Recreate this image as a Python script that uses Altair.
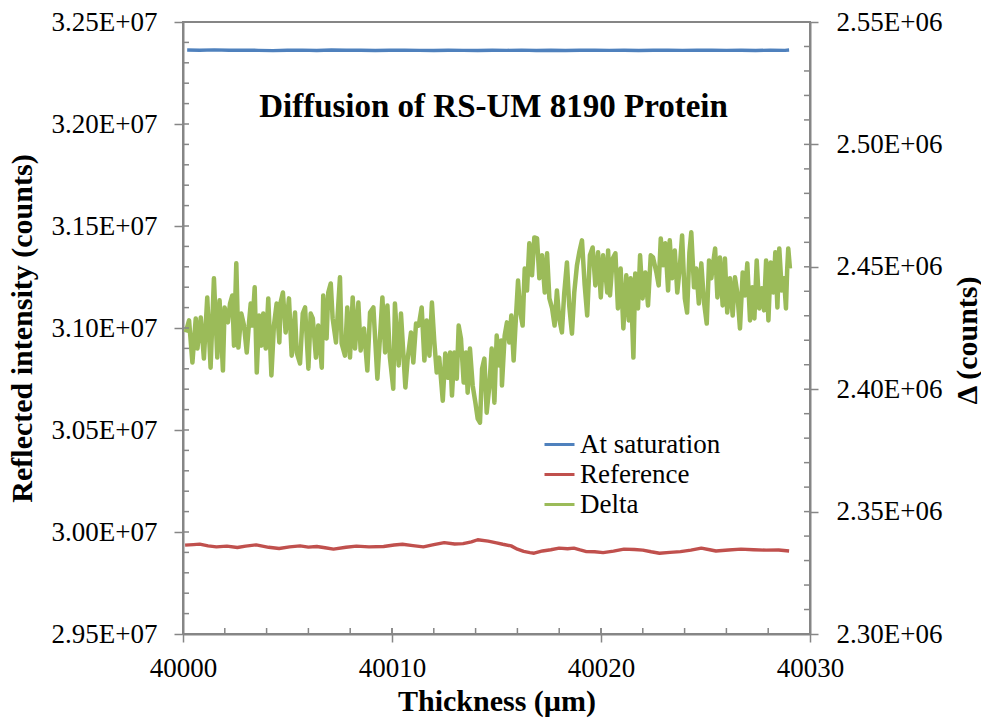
import altair as alt
import pandas as pd

# ---------------- texts ----------------
chart_title = "Diffusion of RS-UM 8190 Protein"
x_title = "Thickness (µm)"
y_left_title = "Reflected intensity (counts)"
y_right_title = "Δ (counts)"
series_names = ["At saturation", "Reference", "Delta"]
series_colors = ["#4F81BD", "#C0504D", "#9BBB59"]

# ---------------- axes ----------------
x_domain = [40000, 40030]
x_ticks = [40000, 40010, 40020, 40030]
x_minor = [40002, 40004, 40006, 40008, 40010, 40012, 40014, 40016, 40018, 40020,
           40022, 40024, 40026, 40028]
left_domain = [2.95e7, 3.25e7]
left_ticks = [2.95e7, 3.00e7, 3.05e7, 3.10e7, 3.15e7, 3.20e7, 3.25e7]
left_minor = [2.96e7, 2.97e7, 2.98e7, 2.99e7, 3.00e7, 3.01e7, 3.02e7, 3.03e7, 3.04e7, 3.05e7,
              3.06e7, 3.07e7, 3.08e7, 3.09e7, 3.10e7, 3.11e7, 3.12e7, 3.13e7, 3.14e7, 3.15e7,
              3.16e7, 3.17e7, 3.18e7, 3.19e7, 3.20e7, 3.21e7, 3.22e7, 3.23e7, 3.24e7]
right_domain = [2.30e6, 2.55e6]
right_ticks = [2.30e6, 2.35e6, 2.40e6, 2.45e6, 2.50e6, 2.55e6]
right_minor = [2.31e6, 2.32e6, 2.33e6, 2.34e6, 2.35e6, 2.36e6, 2.37e6, 2.38e6, 2.39e6, 2.40e6,
               2.41e6, 2.42e6, 2.43e6, 2.44e6, 2.45e6, 2.46e6, 2.47e6, 2.48e6, 2.49e6, 2.50e6,
               2.51e6, 2.52e6, 2.53e6, 2.54e6]

# ---------------- series: At saturation (counts) ----------------
sat_t = [40000.2, 40000.8, 40001.5, 40002.2, 40002.9, 40003.6, 40004.3, 40005.0, 40005.7,
         40006.4, 40007.1, 40007.8, 40008.5, 40009.2, 40009.9, 40010.6, 40011.3, 40012.0,
         40012.7, 40013.4, 40014.1, 40014.8, 40015.5, 40016.2, 40016.9, 40017.6, 40018.3,
         40019.0, 40019.7, 40020.4, 40021.1, 40021.8, 40022.5, 40023.2, 40023.9, 40024.6,
         40025.3, 40026.0, 40026.7, 40027.4, 40028.1, 40028.8, 40029.0]
sat_v = [32362800, 32361800, 32363200, 32361500, 32362200, 32361000, 32359800, 32361200,
         32362000, 32360500, 32362500, 32361200, 32361800, 32360400, 32361500, 32362200,
         32360800, 32360000, 32361400, 32361000, 32360200, 32361800, 32361000, 32362200,
         32360600, 32361500, 32360000, 32361200, 32362000, 32360800, 32361500, 32360400,
         32361200, 32362000, 32360700, 32361500, 32362200, 32360800, 32361200, 32360400,
         32361800, 32361000, 32362500]

# ---------------- series: Reference (counts) ----------------
ref_t = [40000.1, 40000.5, 40000.8, 40001.2, 40001.6, 40002.1, 40002.6, 40003.0, 40003.5,
         40004.1, 40004.6, 40005.1, 40005.6, 40006.0, 40006.4, 40006.8, 40007.2, 40007.8,
         40008.3, 40008.9, 40009.6, 40010.1, 40010.5, 40011.0, 40011.5, 40012.0, 40012.5,
         40013.0, 40013.4, 40013.8, 40014.1, 40014.6, 40015.0, 40015.3, 40015.7, 40016.0,
         40016.3, 40016.6, 40016.8, 40017.2, 40017.6, 40018.0, 40018.4, 40018.7, 40019.0,
         40019.3, 40019.7, 40020.1, 40020.6, 40021.1, 40021.6, 40022.0, 40022.4, 40022.8,
         40023.3, 40023.8, 40024.3, 40024.8, 40025.2, 40025.5, 40026.1, 40026.7, 40027.3,
         40027.9, 40028.5, 40029.0]
ref_v = [29935500, 29938000, 29940400, 29932000, 29927200, 29930500, 29924000, 29931000,
         29937000, 29925000, 29919000, 29927000, 29932000, 29926000, 29929000, 29923000,
         29916000, 29925000, 29931000, 29927000, 29929000, 29936000, 29940000, 29933000,
         29927000, 29938000, 29948000, 29941000, 29943000, 29952000, 29962000, 29955000,
         29947000, 29940000, 29932000, 29916000, 29905000, 29899000, 29896000, 29907000,
         29913000, 29921000, 29918000, 29921000, 29912000, 29904000, 29903000, 29899000,
         29906000, 29916000, 29914000, 29911000, 29903000, 29896000, 29900000, 29904000,
         29911000, 29921000, 29913000, 29907000, 29912000, 29916000, 29913000, 29911000,
         29912000, 29907000]

# ---------------- series: Delta (millions of counts) ----------------
delta_t = [
    40000.13, 40000.29, 40000.45, 40000.61, 40000.69, 40000.85, 40001.00, 40001.16, 40001.32,
    40001.48, 40001.64, 40001.75, 40001.91, 40001.99, 40002.15, 40002.25, 40002.36, 40002.44,
    40002.55, 40002.65, 40002.79, 40002.92, 40003.05, 40003.16, 40003.24, 40003.32, 40003.43,
    40003.53, 40003.64, 40003.75, 40003.84, 40003.96, 40004.08, 40004.23, 40004.35, 40004.48,
    40004.61, 40004.67, 40004.78, 40004.91, 40005.07,
    40005.20, 40005.36, 40005.44, 40005.60, 40005.73, 40005.84, 40006.00, 40006.11, 40006.21,
    40006.36, 40006.47, 40006.64, 40006.71, 40006.87, 40006.95, 40007.07, 40007.16, 40007.32,
    40007.51, 40007.59, 40007.75, 40007.86, 40007.99, 40008.12, 40008.23, 40008.39, 40008.50,
    40008.66, 40008.82, 40008.95, 40009.11, 40009.30, 40009.43, 40009.54, 40009.67, 40009.78,
    40009.90, 40010.06, 40010.14,
    40010.32, 40010.43, 40010.54, 40010.64, 40010.75, 40010.91, 40011.02, 40011.15, 40011.28,
    40011.42, 40011.55, 40011.66, 40011.79, 40011.91, 40012.02, 40012.14, 40012.26, 40012.43,
    40012.55, 40012.67, 40012.78, 40012.87, 40012.98, 40013.10, 40013.19, 40013.30, 40013.43,
    40013.54, 40013.62, 40013.73, 40013.86, 40013.99, 40014.10, 40014.21, 40014.31, 40014.42,
    40014.53, 40014.66, 40014.77, 40014.90, 40015.01, 40015.14, 40015.23,
    40015.26, 40015.39, 40015.50, 40015.61, 40015.71, 40015.82, 40015.93, 40016.03, 40016.14,
    40016.25, 40016.35, 40016.46, 40016.57, 40016.70, 40016.81, 40016.94, 40017.05, 40017.18,
    40017.31, 40017.42, 40017.53, 40017.66, 40017.78, 40017.89, 40018.00, 40018.13, 40018.24,
    40018.37, 40018.48, 40018.61, 40018.72, 40018.85, 40018.96, 40019.09, 40019.22, 40019.34,
    40019.47, 40019.60, 40019.73, 40019.86, 40019.99, 40020.10, 40020.21, 40020.30,
    40020.34, 40020.43, 40020.56, 40020.69, 40020.81, 40020.94, 40021.07, 40021.21, 40021.33,
    40021.42, 40021.55, 40021.64, 40021.77, 40021.87, 40021.99, 40022.12, 40022.25, 40022.38,
    40022.49, 40022.65, 40022.76, 40022.86, 40022.97, 40023.08, 40023.21, 40023.29, 40023.40,
    40023.53, 40023.65, 40023.77, 40023.88, 40024.01, 40024.12, 40024.23, 40024.32, 40024.45,
    40024.56, 40024.68, 40024.80, 40024.93, 40025.06, 40025.17, 40025.28, 40025.37,
    40025.46, 40025.57, 40025.69, 40025.82, 40025.93, 40026.04, 40026.17, 40026.30, 40026.41,
    40026.52, 40026.65, 40026.78, 40026.89, 40027.00, 40027.13, 40027.24, 40027.34, 40027.45,
    40027.57, 40027.69, 40027.80, 40027.90, 40028.01, 40028.12, 40028.25, 40028.34, 40028.44,
    40028.53, 40028.65, 40028.76, 40028.85, 40028.91, 40028.96, 40029.04]
delta_v = [
    2.4232, 2.4281, 2.4109, 2.4289, 2.4166, 2.4293, 2.4125, 2.4375, 2.4088, 2.4453, 2.4129,
    2.4363, 2.4076, 2.4334, 2.4273, 2.4350, 2.4383, 2.4178, 2.4514, 2.4170, 2.4309, 2.4260,
    2.4150, 2.4273, 2.4350, 2.4260, 2.4416, 2.4068, 2.4301, 2.4178, 2.4309, 2.4166, 2.4371,
    2.4056, 2.4260, 2.4350, 2.4191, 2.4354, 2.4395, 2.4232, 2.4371,
    2.4137, 2.4313, 2.4150, 2.4105, 2.4309, 2.4334, 2.4084, 2.4309, 2.4289, 2.4129, 2.4260,
    2.4088, 2.4383, 2.4207, 2.4395, 2.4432, 2.4289, 2.4191, 2.4457, 2.4187, 2.4137, 2.4334,
    2.4129, 2.4375, 2.4166, 2.4354, 2.4158, 2.4248, 2.4076, 2.4313, 2.4334, 2.4043, 2.4219,
    2.4375, 2.4150, 2.4342, 2.4129, 2.4002, 2.4350,
    2.4097, 2.4309, 2.4150, 2.4007, 2.4125, 2.4232, 2.4109, 2.4268, 2.4260, 2.4334, 2.4117,
    2.4281, 2.4137, 2.4354, 2.4199, 2.4068, 2.4129, 2.3953, 2.4146, 2.4047, 2.4150, 2.3974,
    2.4150, 2.4043, 2.4260, 2.4207, 2.4027, 2.4150, 2.3986, 2.4166, 2.4015, 2.3945, 2.3880,
    2.3863, 2.4084, 2.4125, 2.3904, 2.4015, 2.4166, 2.3945, 2.4219, 2.4097, 2.4199,
    2.4015, 2.4219, 2.4273, 2.4191, 2.4301, 2.4117, 2.4293, 2.4444, 2.4313, 2.4260, 2.4493,
    2.4403, 2.4596, 2.4465, 2.4620, 2.4616, 2.4453, 2.4547, 2.4395, 2.4555, 2.4371, 2.4330,
    2.4260, 2.4403, 2.4289, 2.4232, 2.4391, 2.4518, 2.4342, 2.4227, 2.4395, 2.4506, 2.4559,
    2.4608, 2.4424, 2.4301, 2.4547, 2.4579, 2.4424, 2.4559, 2.4375, 2.4547, 2.4477, 2.4395,
    2.4567, 2.4383, 2.4534, 2.4555, 2.4330, 2.4493, 2.4248, 2.4465, 2.4281, 2.4453, 2.4129,
    2.4473, 2.4330, 2.4547, 2.4371, 2.4477, 2.4342, 2.4547, 2.4538, 2.4477, 2.4424, 2.4616,
    2.4506, 2.4596, 2.4403, 2.4608, 2.4453, 2.4567, 2.4395, 2.4498, 2.4628, 2.4371, 2.4313,
    2.4559, 2.4641, 2.4416, 2.4493, 2.4350, 2.4514, 2.4354, 2.4268, 2.4526, 2.4453, 2.4518,
    2.4575, 2.4375, 2.4538, 2.4342, 2.4534, 2.4313, 2.4453, 2.4301, 2.4457, 2.4395, 2.4248,
    2.4477, 2.4383, 2.4514, 2.4281, 2.4416, 2.4289, 2.4526, 2.4330, 2.4412, 2.4322, 2.4526,
    2.4281, 2.4518, 2.4395, 2.4559, 2.4334, 2.4575, 2.4403, 2.4453, 2.4330, 2.4493, 2.4575,
    2.4493]

# ---------------- tables ----------------
left_df = pd.concat([
    pd.DataFrame({"t": sat_t, "v": sat_v, "series": series_names[0]}),
    pd.DataFrame({"t": ref_t, "v": ref_v, "series": series_names[1]}),
], ignore_index=True)
right_df = pd.DataFrame({"t": delta_t, "v": [d * 1e6 for d in delta_v], "series": series_names[2]})

W, H = 627, 612
GRAY = "#868686"
SERIF = "Liberation Serif"

x_scale = alt.Scale(domain=x_domain, nice=False, zero=False)
left_scale = alt.Scale(domain=left_domain, nice=False, zero=False)
right_scale = alt.Scale(domain=right_domain, nice=False, zero=False)

common_axis = dict(
    grid=False, domainColor=GRAY, domainWidth=2, tickColor=GRAY, tickWidth=1.5,
    labelFont=SERIF, labelFontSize=27, labelColor="black",
    titleFont=SERIF, titleFontSize=30, titleFontWeight="bold", titleColor="black",
)

x_axis = alt.Axis(values=x_ticks, format="d", tickSize=8, labelPadding=13, labelFlush=False,
                  orient="bottom",
                  title=x_title, titleX=W / 2, titleY=67, titleBaseline="middle",
                  titleAlign="center", **common_axis)
left_axis = alt.Axis(values=left_ticks, orient="left", tickSize=9, labelPadding=17,
                     labelExpr="replace(format(datum.value, '.2e'), 'e+', 'E+0')",
                     title=y_left_title, titleAngle=270, titleX=-161, titleY=H / 2,
                     titleBaseline="middle", titleAlign="center", **common_axis)
right_axis = alt.Axis(values=right_ticks, orient="right", tickSize=8, labelPadding=18,
                      labelExpr="replace(format(datum.value, '.2e'), 'e+', 'E+0')",
                      title=y_right_title, titleAngle=270, titleX=157, titleY=318,
                      titleBaseline="middle", titleAlign="center", **common_axis)

legend = alt.Legend(orient="none", legendX=360, legendY=406, title=None,
                    symbolType="stroke", symbolSize=900, symbolStrokeWidth=3,
                    labelFont=SERIF, labelFontSize=27, labelColor="black",
                    labelOffset=4, rowPadding=0, padding=0, offset=0)
color = alt.Color("series:N", scale=alt.Scale(domain=series_names, range=series_colors),
                  legend=legend)

x_enc = alt.X("t:Q", scale=x_scale, axis=x_axis)

left_lines = alt.Chart(left_df).mark_line(strokeWidth=3.4, strokeJoin="round").encode(
    x=x_enc,
    y=alt.Y("v:Q", scale=left_scale, axis=left_axis),
    color=color,
)
right_line = alt.Chart(right_df).mark_line(strokeWidth=4.5, strokeJoin="round").encode(
    x=x_enc,
    y=alt.Y("v:Q", scale=right_scale, axis=right_axis),
    color=color,
)

# inner tick marks (Excel style: minor ticks inside the plot)
left_inner = alt.Chart(pd.DataFrame({"v": left_minor})).mark_rule(color=GRAY, strokeWidth=1.5).encode(
    y=alt.Y("v:Q", scale=left_scale, axis=None), x=alt.value(0), x2=alt.value(6))
right_inner = alt.Chart(pd.DataFrame({"v": right_minor})).mark_rule(color=GRAY, strokeWidth=1.5).encode(
    y=alt.Y("v:Q", scale=right_scale, axis=None), x=alt.value(W - 6), x2=alt.value(W))
bottom_inner = alt.Chart(pd.DataFrame({"t": x_minor + x_ticks[1:3]})).mark_rule(color=GRAY, strokeWidth=1.5).encode(
    x=x_enc, y=alt.value(H - 6), y2=alt.value(H))

title_layer = alt.Chart(pd.DataFrame({"label": [chart_title]})).mark_text(
    font=SERIF, fontSize=33, fontWeight="bold", color="black", align="center", baseline="alphabetic"
).encode(text="label:N", x=alt.value(310.5), y=alt.value(95))

chart = alt.layer(
    left_lines, right_line, left_inner, right_inner, bottom_inner, title_layer
).resolve_scale(y="independent").properties(
    width=W, height=H,
    autosize=alt.AutoSizeParams(type="none"),
    padding={"left": 183, "top": 22, "right": 171, "bottom": 84},
    background="white",
).configure_view(stroke=GRAY, strokeWidth=2)

chart.save("out.html", embed_options={"renderer": "svg", "actions": False})
